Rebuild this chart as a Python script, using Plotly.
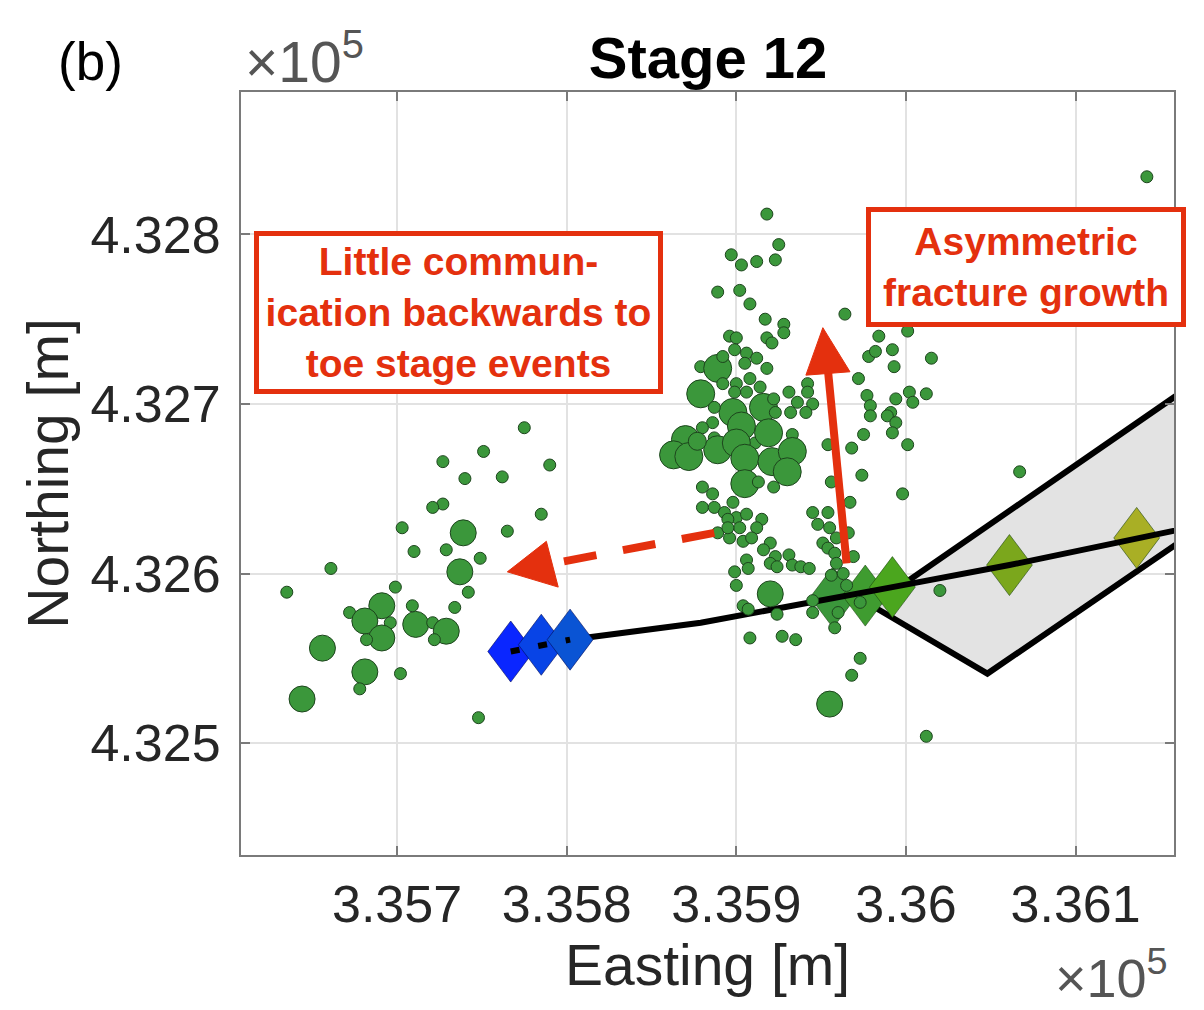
import plotly.graph_objects as go

# ---------------------------------------------------------------------------
# Microseismic events recorded during stage 12 (UTM easting / northing in m)
# and their moment magnitudes.
# ---------------------------------------------------------------------------
event_easting = [
    # western cloud, near the toe stages
    335775, 335751, 335727, 335790, 335740, 335762, 335727, 335721, 335785, 335703,
    335739, 335765, 335710, 335729, 335749, 335661, 335737, 335635, 335699, 335742,
    335691, 335672, 335709, 335734, 335681, 335696, 335711, 335721, 335729, 335691,
    335682, 335722, 335656, 335681, 335702, 335678, 335644, 335748,
    # main cloud around the stage 12 perforations
    335918, 335925, 335897, 335903, 335912, 335923, 335889, 335902, 335908, 335964,
    335917, 335928, 335928, 335896, 335900, 335918, 335921, 335984, 335992, 335978,
    335982, 335993, 336015, 336001, 336142, 335899, 335906, 335912, 335905, 335918,
    335879, 335889, 335892, 335972, 335942, 335931, 335936, 335945, 335941, 335932,
    335977, 335979, 335994, 336002, 336004, 336012, 335991, 335879, 335898, 335916,
    335922, 335908, 335900, 335892, 335906, 335914, 335887, 335923, 335886, 335880,
    335887, 335911, 335933, 335903, 335919, 335870, 335863, 335872, 335889, 335900,
    335905, 335921, 335933, 335930, 335905, 335877, 335954, 335956, 335913, 335922,
    335880, 335886, 335880, 335887, 335898, 335893, 335900, 335906, 335915, 335902,
    335895, 335912, 335889, 335896, 335904, 335909, 335920, 335916, 335923, 335931,
    335933, 335906, 335907, 335920, 335938, 335943, 335899, 335900, 335920, 335904,
    335907, 335924, 335908, 335927, 335935, 335945, 335945, 335968, 335975, 335979,
    335974, 335967, 335945, 335948, 335954, 335955, 335951, 335954, 335959, 335966,
    335958, 335969, 335959, 335956, 335963, 335965, 335960, 335958, 335973, 335973,
    335968, 335955, 335989, 335994, 335992, 336001, 335998, 336020, 336067, 336012,
    335895, 335924, 335899, 335942,
]
event_northing = [
    432686, 432672, 432666, 432664, 432656, 432657, 432641, 432639, 432635, 432627,
    432624, 432625, 432613, 432614, 432609, 432603, 432601, 432589, 432592, 432589,
    432581, 432577, 432581, 432580, 432572, 432571, 432570, 432571, 432566, 432562,
    432561, 432561, 432556, 432542, 432541, 432532, 432526, 432515,
    432812, 432794, 432788, 432782, 432784, 432785, 432766, 432767, 432759, 432753,
    432750, 432747, 432742, 432740, 432739, 432739, 432736, 432740, 432732, 432728,
    432731, 432722, 432727, 432743, 432834, 432732, 432730, 432727, 432724, 432721,
    432722, 432721, 432728, 432715, 432712, 432707, 432701, 432700, 432695, 432695,
    432705, 432699, 432703, 432707, 432701, 432706, 432695, 432706, 432695, 432698,
    432703, 432715, 432712, 432712, 432707, 432710, 432698, 432695, 432689, 432686,
    432680, 432677, 432682, 432687, 432683, 432679, 432670, 432669, 432673, 432677,
    432668, 432666, 432672, 432660, 432653, 432678, 432676, 432654, 432654, 432651,
    432651, 432647, 432639, 432639, 432642, 432636, 432633, 432635, 432632, 432627,
    432632, 432627, 432624, 432621, 432619, 432621, 432618, 432614, 432610, 432611,
    432605, 432608, 432603, 432606, 432604, 432603, 432601, 432593, 432588, 432581,
    432579, 432576, 432562, 432563, 432561, 432584, 432577, 432674, 432682, 432693,
    432658, 432642, 432636, 432629, 432636, 432627, 432618, 432615, 432621, 432624,
    432612, 432610, 432606, 432599, 432600, 432593, 432577, 432568, 432583, 432550,
    432540, 432523, 432693, 432689, 432683, 432676, 432647, 432590, 432660, 432504,
    432627, 432604, 432707, 432707,
]
event_magnitude = [
    -1.6, -1.6, -1.6, -1.6, -1.6, -1.6, -1.6, -1.6, -1.6, -1.6,
    -0.9, -1.6, -1.6, -1.6, -1.6, -1.6, -0.9, -1.6, -1.6, -1.6,
    -0.9, -1.6, -1.6, -1.6, -0.9, -1.6, -0.9, -1.6, -0.9, -0.9,
    -1.6, -1.6, -0.9, -0.9, -1.6, -1.6, -0.9, -1.6,
    -1.6, -1.6, -1.6, -1.6, -1.6, -1.6, -1.6, -1.6, -1.6, -1.6,
    -1.6, -1.6, -1.6, -1.6, -1.6, -1.6, -1.6, -1.6, -1.6, -1.6,
    -1.6, -1.6, -1.6, -1.6, -1.6, -1.6, -1.6, -1.6, -1.6, -1.6,
    -1.6, -0.8, -1.6, -1.6, -1.6, -1.6, -1.6, -1.6, -1.6, -1.6,
    -1.6, -1.6, -1.6, -1.6, -1.6, -1.6, -1.6, -0.8, -0.8, -0.8,
    -1.6, -1.6, -1.6, -1.6, -1.6, -1.6, -1.6, -1.6, -1.6, -1.6,
    -1.6, -1.6, -1.6, -0.8, -0.8, -0.8, -0.8, -0.8, -0.8, -0.8,
    -0.8, -0.8, -0.8, -0.8, -0.8, -1.3, -1.6, -1.6, -1.6, -1.6,
    -1.6, -1.6, -1.6, -1.6, -1.6, -1.6, -1.6, -1.6, -1.6, -1.6,
    -1.6, -1.6, -1.6, -1.6, -1.6, -1.6, -1.6, -1.6, -1.6, -1.6,
    -1.6, -1.6, -1.6, -1.6, -1.6, -1.6, -1.6, -1.6, -0.9, -1.6,
    -1.6, -1.6, -1.6, -1.6, -1.6, -1.6, -1.6, -1.6, -1.6, -1.6,
    -1.6, -1.6, -1.6, -1.6, -1.6, -1.6, -1.6, -1.6, -1.6, -1.6,
    -1.6, -1.6, -1.6, -1.6, -1.6, -1.6, -1.6, -1.6, -1.6, -1.6,
    -1.6, -0.9, -1.6, -1.6, -1.6, -1.6, -1.6, -1.6, -1.6, -1.6,
    -1.6, -1.6, -1.6, -1.6,
]

# Perforation stage centres along the lateral (toe stages first)
stage_easting = [335767, 335785, 335802, 335957, 335976, 335992, 336061, 336136]
stage_northing = [432554, 432558, 432561, 432586, 432587, 432592, 432605, 432621]
stage_colors = ["#0a26ff", "#0844e6", "#0a54d4", "#3b973b", "#3f9c30",
                "#4ba61e", "#7ba71c", "#a9af25"]
toe_stage_count = 3

# Well trajectory
well_easting = [335767, 335802, 335879, 335957, 335992, 336061, 336136, 336200]
well_northing = [432554, 432561, 432571, 432586, 432592, 432605, 432621, 432634]

# Stimulated fracture envelope
envelope_easting = [335980, 336048, 336200, 336200, 335980]
envelope_northing = [432581, 432541, 432645, 432733, 432581]

# Axis ticks
x_tick_values = [335700, 335800, 335900, 336000, 336100]
x_tick_labels = ["3.357", "3.358", "3.359", "3.36", "3.361"]
y_tick_values = [432500, 432600, 432700, 432800]
y_tick_labels = ["4.325", "4.326", "4.327", "4.328"]

FONT = "Liberation Sans, Arial, Helvetica, sans-serif"
RED = "#e4300e"
TEXT = "#262626"

W, H = 1204, 1010
PLOT_L, PLOT_R, PLOT_T, PLOT_B = 241, 1174, 92, 855


def paper(px, py):
    """Pixel position on the page -> paper coordinates."""
    return (px - PLOT_L) / (PLOT_R - PLOT_L), (PLOT_B - py) / (PLOT_B - PLOT_T)


def diamond(cx, cy, half_w=13.5, half_h=18.0):
    xs = [cx, cx + half_w, cx, cx - half_w, cx]
    ys = [cy + half_h, cy, cy - half_h, cy, cy + half_h]
    return xs, ys


fig = go.Figure()

# fracture envelope
fig.add_trace(go.Scatter(
    x=envelope_easting, y=envelope_northing, mode="lines", fill="toself",
    fillcolor="#e3e3e3", line=dict(color="black", width=6),
    hoverinfo="skip", showlegend=False))

# heel-side stage markers (below the well line)
for i in range(toe_stage_count, len(stage_easting)):
    xs, ys = diamond(stage_easting[i], stage_northing[i])
    fig.add_trace(go.Scatter(
        x=xs, y=ys, mode="lines", fill="toself", fillcolor=stage_colors[i],
        line=dict(color="rgba(20,60,10,0.55)", width=1),
        hoverinfo="skip", showlegend=False))

# well
fig.add_trace(go.Scatter(
    x=well_easting, y=well_northing, mode="lines",
    line=dict(color="black", width=6), hoverinfo="skip", showlegend=False))

# events
event_size = [12 + (m + 1.6) * 20 for m in event_magnitude]
fig.add_trace(go.Scatter(
    x=event_easting, y=event_northing, mode="markers",
    marker=dict(size=event_size, color="#3b973b", opacity=1,
                line=dict(color="#1d451d", width=1)),
    showlegend=False))

# toe stage markers
for i in range(toe_stage_count):
    xs, ys = diamond(stage_easting[i], stage_northing[i])
    fig.add_trace(go.Scatter(
        x=xs, y=ys, mode="lines", fill="toself", fillcolor=stage_colors[i],
        line=dict(color="rgba(0,10,90,0.6)", width=1),
        hoverinfo="skip", showlegend=False))

fig.add_trace(go.Scatter(
    x=stage_easting[:toe_stage_count], y=stage_northing[:toe_stage_count],
    mode="lines", line=dict(color="black", width=6, dash="9px,19px"),
    hoverinfo="skip", showlegend=False))

# ---- red interpretation arrows ----
shapes = []
# backwards communication (dashed)
shapes.append(dict(type="line", xref="x", yref="y",
                   x0=335887, y0=432624, x1=335792, y1=432606,
                   line=dict(color=RED, width=8, dash="33px,27px")))
shapes.append(dict(type="path", xref="x", yref="y",
                   path="M 335765,432601 L 335788,432619 L 335795,432592 Z",
                   fillcolor=RED, line=dict(color=RED, width=1)))
# asymmetric growth (solid)
shapes.append(dict(type="line", xref="x", yref="y",
                   x0=335965, y0=432606, x1=335954, y1=432720,
                   line=dict(color=RED, width=8)))
shapes.append(dict(type="path", xref="x", yref="y",
                   path="M 335951,432745 L 335941,432717 L 335967,432719 Z",
                   fillcolor=RED, line=dict(color=RED, width=1)))

annotations = []
annotations.append(dict(
    xref="x", yref="y", x=335736, y=432754, showarrow=False,
    text="Little commun-<br>ication backwards to<br>toe stage events",
    font=dict(family=FONT, size=39, color=RED, weight="bold"),
    align="center", bgcolor="white", bordercolor=RED, borderwidth=5,
    borderpad=3, width=393, height=147))
annotations.append(dict(
    xref="x", yref="y", x=336071, y=432781, showarrow=False,
    text="Asymmetric<br>fracture growth",
    font=dict(family=FONT, size=39, color=RED, weight="bold"),
    align="center", bgcolor="white", bordercolor=RED, borderwidth=5,
    borderpad=3, width=304, height=104))

bx, by = paper(90, 62)
annotations.append(dict(xref="paper", yref="paper", x=bx, y=by, showarrow=False,
                        text="(b)", xanchor="center", yanchor="middle",
                        font=dict(family=FONT, size=53, color="black")))
ex, ey = paper(243, 58)
annotations.append(dict(xref="paper", yref="paper", x=ex, y=ey, showarrow=False,
                        text="×10<sup>5</sup>", xanchor="left", yanchor="middle",
                        font=dict(family=FONT, size=57, color="#555555")))
ex, ey = paper(1170, 974)
annotations.append(dict(xref="paper", yref="paper", x=ex, y=ey, showarrow=False,
                        text="×10<sup>5</sup>", xanchor="right", yanchor="middle",
                        font=dict(family=FONT, size=54, color="#555555")))

axis_common = dict(
    ticks="inside", ticklen=9, tickwidth=1.5, tickcolor="#7a7a7a",
    showline=True, linecolor="#7a7a7a", linewidth=2, mirror="ticks",
    showgrid=True, gridcolor="#e2e2e2", gridwidth=1.5, zeroline=False,
    tickfont=dict(family=FONT, size=52, color=TEXT),
)

fig.update_xaxes(
    range=[335608, 336158], tickmode="array",
    tickvals=x_tick_values, ticktext=x_tick_labels,
    ticklabelstandoff=3,
    title=dict(text="Easting [m]", font=dict(family=FONT, size=57, color=TEXT),
               standoff=8),
    **axis_common)
fig.update_yaxes(
    range=[432434, 432884], tickmode="array",
    tickvals=y_tick_values, ticktext=y_tick_labels,
    ticklabelstandoff=8,
    title=dict(text="Northing [m]", font=dict(family=FONT, size=57, color=TEXT),
               standoff=4),
    **axis_common)

fig.update_layout(
    width=W, height=H,
    margin=dict(l=PLOT_L, r=W - PLOT_R, t=PLOT_T, b=H - PLOT_B),
    paper_bgcolor="white", plot_bgcolor="white",
    title=dict(text="Stage 12", x=708 / W, xanchor="center",
               y=1 - 58 / H, yanchor="middle", yref="container",
               font=dict(family=FONT, size=58, color="black", weight="bold")),
    shapes=shapes, annotations=annotations,
    showlegend=False,
)

fig.write_html("out.html")
